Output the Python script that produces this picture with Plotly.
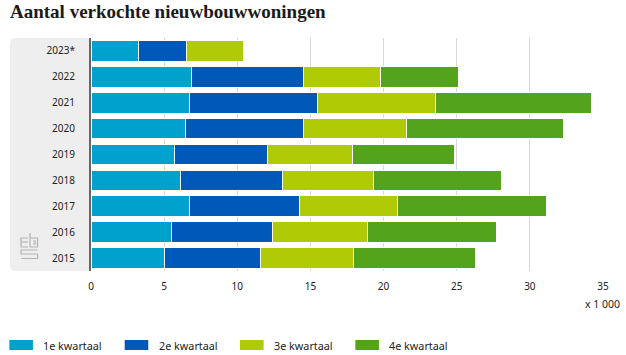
import plotly.graph_objects as go

years = ["2015","2016","2017","2018","2019","2020","2021","2022","2023*"]
names = ["1e kwartaal","2e kwartaal","3e kwartaal","4e kwartaal"]
colors = ["#00a1cd","#0058b8","#afcb05","#53a31d"]
q1 = [5.0,5.5,6.75,6.1,5.72,6.47,6.75,6.88,3.25]
q2 = [6.6,6.9,7.5,7.0,6.33,8.03,8.75,7.62,3.3]
q3 = [6.37,6.53,6.7,6.2,5.85,7.1,8.05,5.3,3.85]
q4 = [8.33,8.77,10.2,8.77,6.95,10.7,10.65,5.3,0]
series = [q1,q2,q3,q4]
ticks = [0,5,10,15,20,25,30,35]
W,H = 626,355
L,R,T,B = 91,603.3,38,271
FONT = "Noto Sans, sans-serif"
GREY = "#222222"

def px(x): return (x-L)/(R-L)
def py(y): return (B-y)/(B-T)
def poly(points, close=False):
    d = "M " + " L ".join(f"{px(x)} {py(y)}" for x,y in points)
    return d + (" Z" if close else "")

fig = go.Figure()
for n,c,s in zip(names,colors,series):
    fig.add_bar(y=years,x=s,name=n,orientation="h",
                marker=dict(color=c,line=dict(color="white",width=1)))

shapes = [
 dict(type="path",xref="paper",yref="paper",layer="below",fillcolor="#eeeeee",line_width=0,
      path=f"M {px(91)} {py(38)} L {px(16)} {py(38)} Q {px(10)} {py(38)} {px(10)} {py(44)} "
           f"L {px(10)} {py(265)} Q {px(10)} {py(271)} {px(16)} {py(271)} L {px(91)} {py(271)} Z"),
]
# CBS logo outline
logo = [
 [(28,238),(21,238),(21,247),(28,247)],
 [(21,242),(28,242)],
 [(30,233),(30,247),(37.5,247),(37.5,238),(30,238)],
 [(33,241),(35,241),(35,244),(33,244)],
 [(37.5,250),(21,250),(21,254),(37.5,254),(37.5,258.5),(21,258.5)],
]
for pts in logo:
    shapes.append(dict(type="path",xref="paper",yref="paper",path=poly(pts),
                       line=dict(color="#b4b4b4",width=1.2)))

fig.update_layout(
    width=W,height=H,autosize=False,barmode="stack",bargap=0.2,
    margin=dict(l=L,r=W-R,t=T,b=H-B,pad=0),
    paper_bgcolor="white",plot_bgcolor="white",showlegend=False,
    font=dict(family=FONT,size=10,color=GREY),
    shapes=shapes,
    xaxis=dict(range=[0,35],tickvals=ticks,ticktext=[str(t) for t in ticks],
               showgrid=True,gridcolor="#d9d9d9",gridwidth=1,zeroline=False,ticks="",
               ticklabelstandoff=8,tickfont=dict(size=10,color=GREY)),
    yaxis=dict(categoryorder="array",categoryarray=years,showgrid=False,zeroline=False,
               showline=True,linecolor="#666",linewidth=2,ticks="",
               ticklabelstandoff=12,tickfont=dict(size=10,color=GREY)),
)
fig.add_annotation(text="<b>Aantal verkochte nieuwbouwwoningen</b>",xref="paper",yref="paper",
    x=px(9),y=py(12),xanchor="left",yanchor="middle",showarrow=False,xshift=-1,
    font=dict(family="Liberation Serif, serif",size=19,color="#1a1a1a"))
fig.add_annotation(text="x 1 000",xref="paper",yref="paper",x=px(620),y=py(304),
    xanchor="right",yanchor="middle",showarrow=False,xshift=2,font=dict(size=10.5,color=GREY))
for i,(n,c) in enumerate(zip(names,colors)):
    x0 = 9.3+115.4*i
    fig.add_shape(type="rect",xref="paper",yref="paper",x0=px(x0),x1=px(x0+23.6),
                  y0=py(350),y1=py(340),fillcolor=c,line_width=0)
    fig.add_annotation(text=n,xref="paper",yref="paper",x=px(x0+33),y=py(345),
        xanchor="left",yanchor="middle",showarrow=False,xshift=-1,font=dict(size=10.8,color=GREY))
fig.write_html("out.html",config=dict(displayModeBar=False),
               post_script="document.body.style.margin='0';document.documentElement.style.overflow='hidden';")
